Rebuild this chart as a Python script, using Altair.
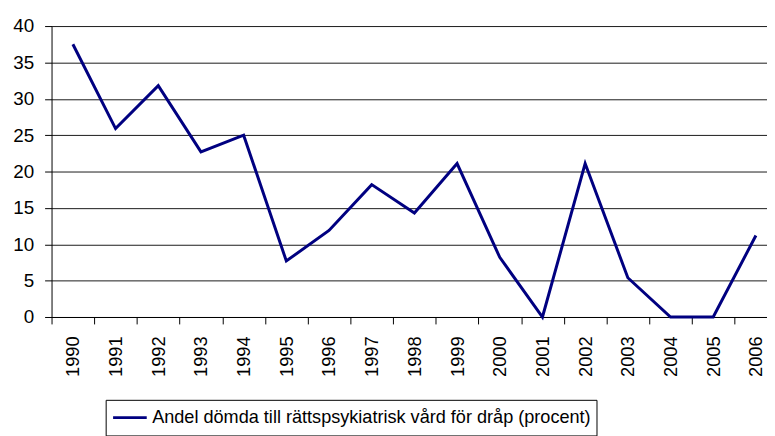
import altair as alt
import pandas as pd

years = list(range(1990, 2007))
values = [37.5, 25.9, 31.8, 22.7, 25.0, 7.7, 11.9, 18.2, 14.3, 21.1, 8.2, 0.0, 21.1, 5.4, 0.0, 0.0, 11.2]
series_name = "Andel dömda till rättspsykiatrisk vård för dråp (procent)"
y_ticks = [0, 5, 10, 15, 20, 25, 30, 35, 40]

df = pd.DataFrame({"year": years, "value": values, "series": [series_name] * len(years)})

W, H = 723, 294
x_domain = [1989.5, 2006.26]
step = W / (x_domain[1] - x_domain[0])
FONT = "Liberation Sans"

chart = alt.Chart(df).mark_line(strokeWidth=3).encode(
    x=alt.X(
        "year:Q",
        scale=alt.Scale(domain=x_domain, nice=False, zero=False),
        axis=alt.Axis(
            values=years, format="d", labelAngle=-90, labelAlign="right", labelBaseline="middle",
            tickOffset=-step / 2, labelOffset=step / 2, tickSize=7, labelPadding=12,
            grid=False, title=None, domainColor="black", tickColor="black",
            labelFontSize=18.5, labelFont=FONT, labelColor="black", labelFlush=False,
            labelOverlap=False,
        ),
    ),
    y=alt.Y(
        "value:Q",
        scale=alt.Scale(domain=[0, 40], nice=False),
        axis=alt.Axis(
            values=y_ticks, title=None, grid=True, gridColor="#1a1a1a", gridWidth=1,
            domainColor="black", tickColor="black", tickSize=7, labelPadding=11,
            labelFontSize=19, labelFont=FONT, labelColor="black", labelOverlap=False,
        ),
    ),
    color=alt.Color(
        "series:N",
        scale=alt.Scale(range=["#000080"]),
        legend=alt.Legend(
            title=None, orient="none", legendX=54.7, legendY=377.7,
            symbolType="stroke", symbolSize=1156, symbolStrokeWidth=3,
            labelOffset=4, labelFontSize=18.3, labelFont=FONT, labelColor="black",
            labelLimit=0, padding=6, clipHeight=24,
            strokeColor="black", fillColor="white",
        ),
    ),
).properties(
    width=W, height=H,
    autosize=alt.AutoSizeParams(type="none"),
    padding={"left": 44, "top": 16, "right": 0, "bottom": 118},
).configure_view(stroke=None)

chart.save("out.html", embed_options={"renderer": "svg", "actions": False})
